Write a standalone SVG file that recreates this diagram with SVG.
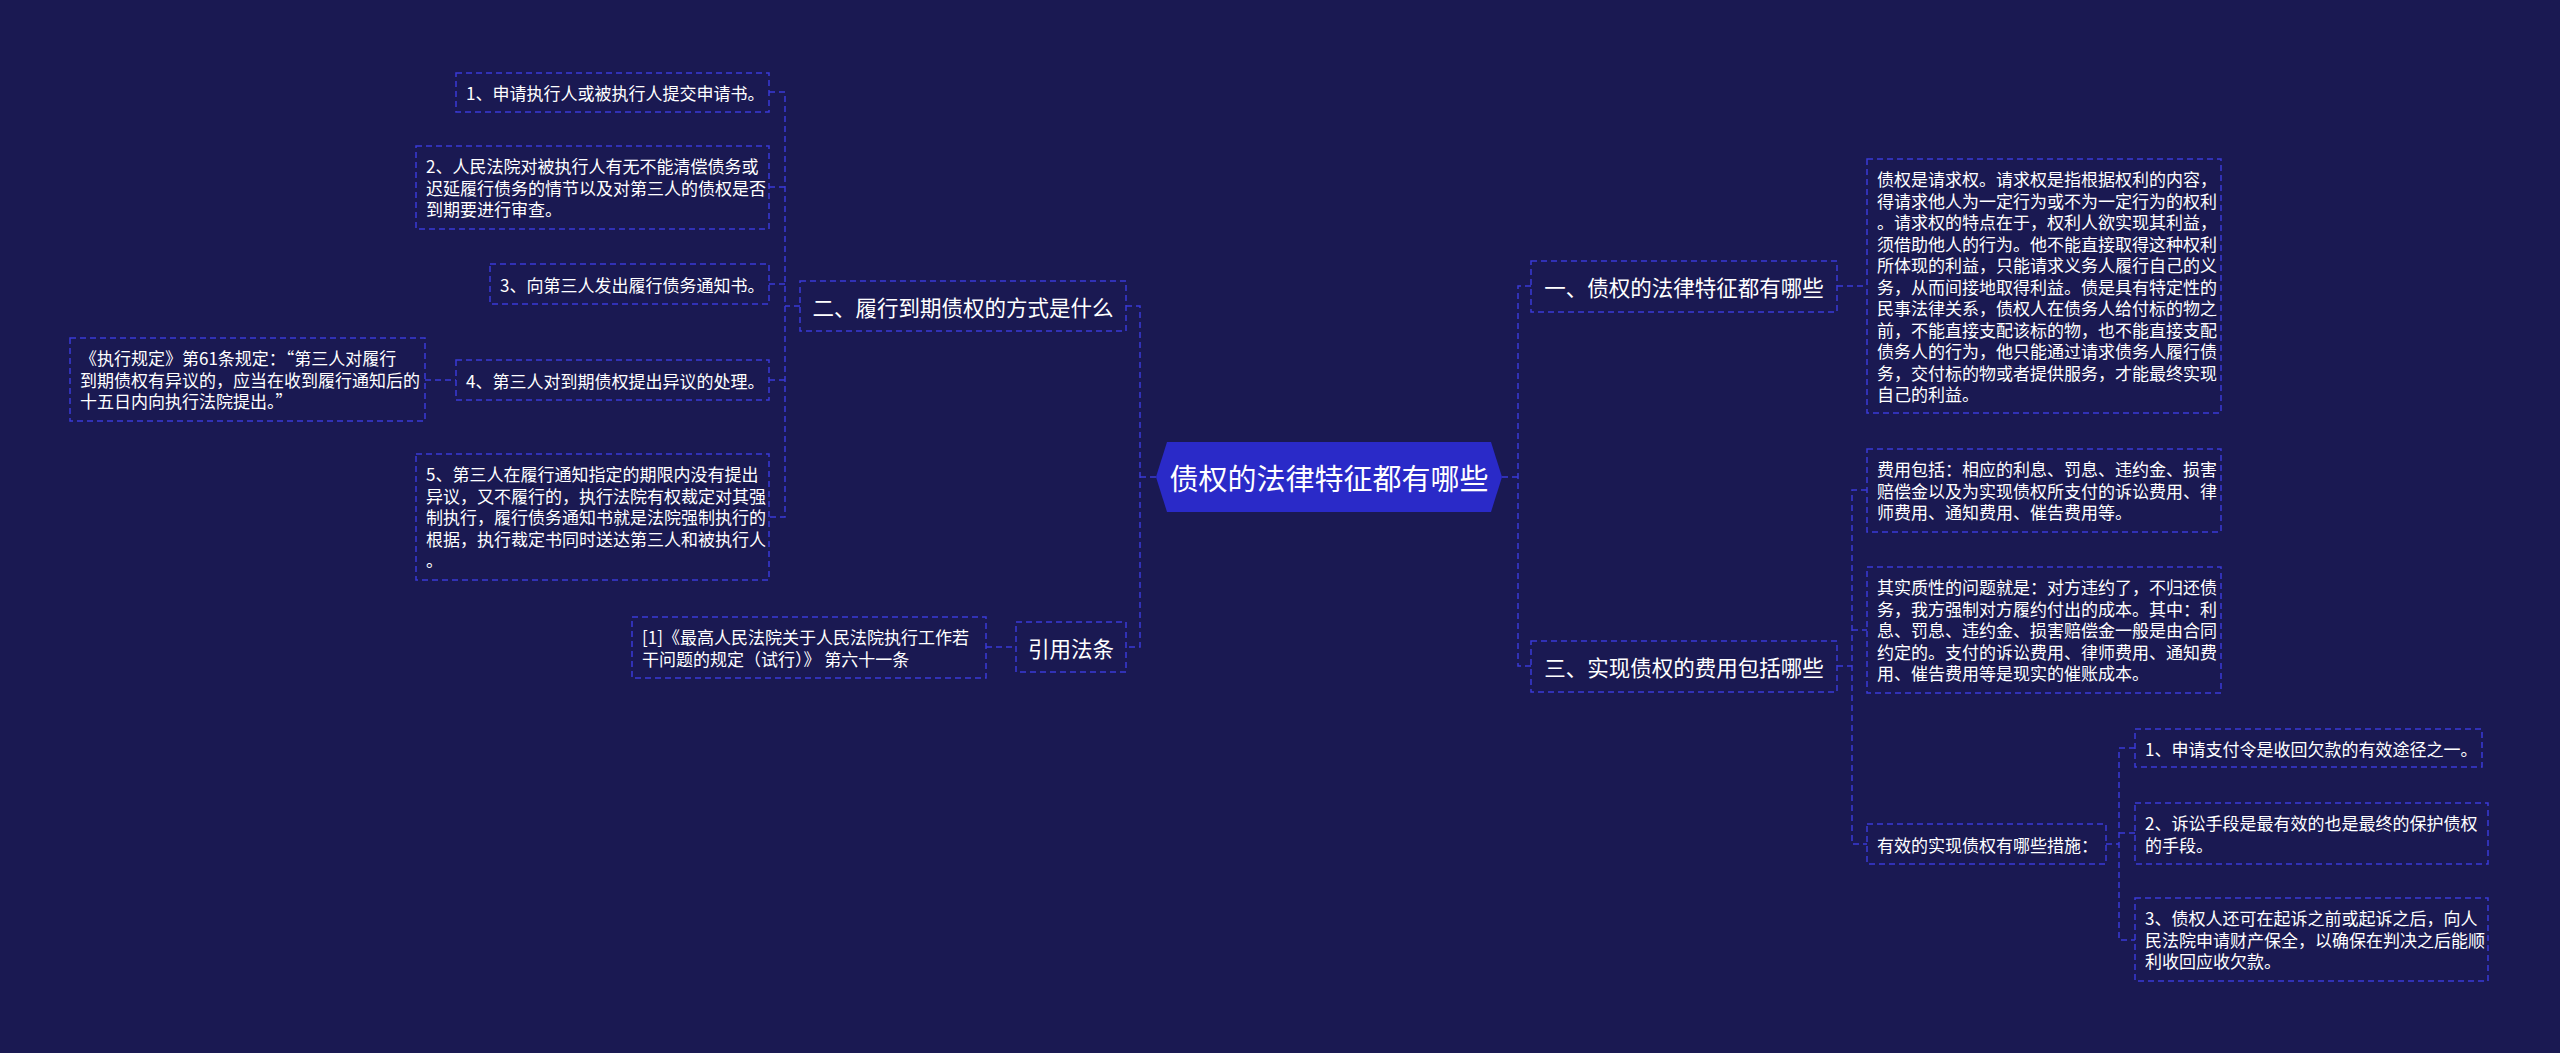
<svg xmlns="http://www.w3.org/2000/svg" width="2560" height="1053" viewBox="0 0 2560 1053">
<style>
.bg{fill:#1a1952}
.box{fill:#1a1952;stroke:#3a3ad6;stroke-width:1.5;stroke-dasharray:6 4}
.con{fill:none;stroke:#3a3ad6;stroke-width:1.5;stroke-dasharray:6 4}
.t{font-family:"Noto Sans CJK SC","Noto Sans",sans-serif;font-size:17px;fill:#ffffff;dominant-baseline:central}
.m{font-family:"Noto Sans CJK SC","Noto Sans",sans-serif;font-size:21.5px;fill:#ffffff;dominant-baseline:central;text-anchor:middle}
.c{font-family:"Noto Sans CJK SC","Noto Sans",sans-serif;font-size:29px;fill:#ffffff;dominant-baseline:central;text-anchor:middle}
</style>
<rect class="bg" x="0" y="0" width="2560" height="1053"/>
<g id="connectors">
<path class="con" d="M1156 477H1140M1126 306H1140V647H1126"/>
<path class="con" d="M800 306H785M769 92H785V517H769M769 187H785M769 284H785M769 380H785"/>
<path class="con" d="M425 380H456"/>
<path class="con" d="M986 647H1016"/>
<path class="con" d="M1502 477H1518M1531 286H1518V666H1531"/>
<path class="con" d="M1837 286H1867"/>
<path class="con" d="M1837 666H1852M1867 490H1852V844H1867M1852 630H1867"/>
<path class="con" d="M2106 844H2119M2135 748H2119V940H2135M2119 833H2135"/>
</g>
<g id="root">
<polygon points="1156,477 1167,442 1491,442 1502,477 1491,512 1167,512" fill="#2a2ac8"/>
<text class="c" x="1329" y="477">债权的法律特征都有哪些</text>
</g>
<g id="n2">
<rect class="box" x="800" y="281" width="326" height="50"/>
<text class="m" x="963" y="306">二、履行到期债权的方式是什么</text>
</g>
<g id="nref">
<rect class="box" x="1016" y="622" width="110" height="50"/>
<text class="m" x="1071" y="647">引用法条</text>
</g>
<g id="ref1">
<rect class="box" x="632" y="617" width="354" height="61"/>
<text class="t" x="642" y="636.75">[1]《最高人民法院关于人民法院执行工作若</text>
<text class="t" x="642" y="658.25">干问题的规定（试行）》 第六十一条</text>
</g>
<g id="l1">
<rect class="box" x="456" y="73" width="313" height="39"/>
<text class="t" x="466" y="92.5">1、申请执行人或被执行人提交申请书。</text>
</g>
<g id="l2">
<rect class="box" x="416" y="146" width="353" height="83"/>
<text class="t" x="426" y="165.75">2、人民法院对被执行人有无不能清偿债务或</text>
<text class="t" x="426" y="187.25">迟延履行债务的情节以及对第三人的债权是否</text>
<text class="t" x="426" y="208.75">到期要进行审查。</text>
</g>
<g id="l3">
<rect class="box" x="490" y="264" width="279" height="40"/>
<text class="t" x="500" y="284">3、向第三人发出履行债务通知书。</text>
</g>
<g id="l4">
<rect class="box" x="456" y="360" width="313" height="40"/>
<text class="t" x="466" y="380">4、第三人对到期债权提出异议的处理。</text>
</g>
<g id="note4">
<rect class="box" x="70" y="338" width="355" height="83"/>
<text class="t" x="80" y="357.75">《执行规定》第61条规定：“第三人对履行</text>
<text class="t" x="80" y="379.25">到期债权有异议的，应当在收到履行通知后的</text>
<text class="t" x="80" y="400.75">十五日内向执行法院提出。”</text>
</g>
<g id="l5">
<rect class="box" x="416" y="454" width="353" height="126"/>
<text class="t" x="426" y="473.75">5、第三人在履行通知指定的期限内没有提出</text>
<text class="t" x="426" y="495.25">异议，又不履行的，执行法院有权裁定对其强</text>
<text class="t" x="426" y="516.75">制执行，履行债务通知书就是法院强制执行的</text>
<text class="t" x="426" y="538.25">根据，执行裁定书同时送达第三人和被执行人</text>
<text class="t" x="426" y="559.75">。</text>
</g>
<g id="n1">
<rect class="box" x="1531" y="261" width="306" height="51"/>
<text class="m" x="1684" y="286.5">一、债权的法律特征都有哪些</text>
</g>
<g id="n3">
<rect class="box" x="1531" y="641" width="306" height="51"/>
<text class="m" x="1684" y="666.5">三、实现债权的费用包括哪些</text>
</g>
<g id="r1">
<rect class="box" x="1867" y="159" width="354" height="254"/>
<text class="t" x="1877" y="178.75">债权是请求权。请求权是指根据权利的内容，</text>
<text class="t" x="1877" y="200.25">得请求他人为一定行为或不为一定行为的权利</text>
<text class="t" x="1877" y="221.75">。请求权的特点在于，权利人欲实现其利益，</text>
<text class="t" x="1877" y="243.25">须借助他人的行为。他不能直接取得这种权利</text>
<text class="t" x="1877" y="264.75">所体现的利益，只能请求义务人履行自己的义</text>
<text class="t" x="1877" y="286.25">务，从而间接地取得利益。债是具有特定性的</text>
<text class="t" x="1877" y="307.75">民事法律关系，债权人在债务人给付标的物之</text>
<text class="t" x="1877" y="329.25">前，不能直接支配该标的物，也不能直接支配</text>
<text class="t" x="1877" y="350.75">债务人的行为，他只能通过请求债务人履行债</text>
<text class="t" x="1877" y="372.25">务，交付标的物或者提供服务，才能最终实现</text>
<text class="t" x="1877" y="393.75">自己的利益。</text>
</g>
<g id="r3a">
<rect class="box" x="1867" y="449" width="354" height="83"/>
<text class="t" x="1877" y="468.75">费用包括：相应的利息、罚息、违约金、损害</text>
<text class="t" x="1877" y="490.25">赔偿金以及为实现债权所支付的诉讼费用、律</text>
<text class="t" x="1877" y="511.75">师费用、通知费用、催告费用等。</text>
</g>
<g id="r3b">
<rect class="box" x="1867" y="567" width="354" height="126"/>
<text class="t" x="1877" y="586.75">其实质性的问题就是：对方违约了，不归还债</text>
<text class="t" x="1877" y="608.25">务，我方强制对方履约付出的成本。其中：利</text>
<text class="t" x="1877" y="629.75">息、罚息、违约金、损害赔偿金一般是由合同</text>
<text class="t" x="1877" y="651.25">约定的。支付的诉讼费用、律师费用、通知费</text>
<text class="t" x="1877" y="672.75">用、催告费用等是现实的催账成本。</text>
</g>
<g id="r3c">
<rect class="box" x="1867" y="824" width="239" height="40"/>
<text class="t" x="1877" y="844">有效的实现债权有哪些措施：</text>
</g>
<g id="s1">
<rect class="box" x="2135" y="729" width="347" height="38"/>
<text class="t" x="2145" y="748">1、申请支付令是收回欠款的有效途径之一。</text>
</g>
<g id="s2">
<rect class="box" x="2135" y="803" width="353" height="61"/>
<text class="t" x="2145" y="822.75">2、诉讼手段是最有效的也是最终的保护债权</text>
<text class="t" x="2145" y="844.25">的手段。</text>
</g>
<g id="s3">
<rect class="box" x="2135" y="898" width="353" height="83"/>
<text class="t" x="2145" y="917.75">3、债权人还可在起诉之前或起诉之后，向人</text>
<text class="t" x="2145" y="939.25">民法院申请财产保全，以确保在判决之后能顺</text>
<text class="t" x="2145" y="960.75">利收回应收欠款。</text>
</g>
</svg>
